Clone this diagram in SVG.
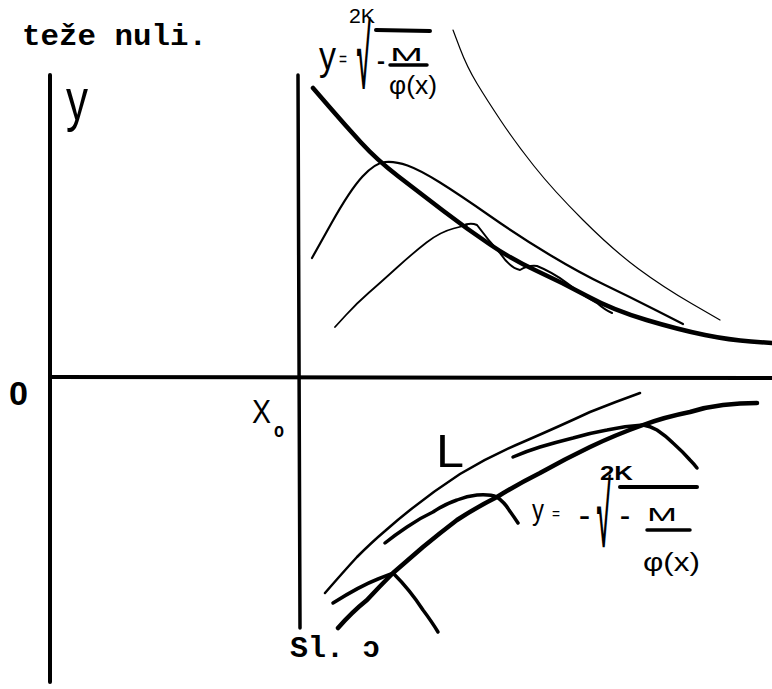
<svg xmlns="http://www.w3.org/2000/svg" width="772" height="689" viewBox="0 0 772 689">
<style>
.ax{stroke:#000;stroke-width:4;fill:none;stroke-linecap:round}
.c{stroke:#000;fill:none;stroke-linecap:round;stroke-linejoin:round}
.tw{font-family:"Liberation Mono","DejaVu Sans Mono",monospace;font-weight:bold;font-size:30px;fill:#000}
.hw{font-family:"Liberation Sans","DejaVu Sans",sans-serif;fill:#000}
.rad{font-family:"Liberation Sans","DejaVu Sans",sans-serif;font-weight:bold;font-size:56px;fill:#000}
.bar{stroke:#000;stroke-width:4;stroke-linecap:round}
</style>
<rect width="772" height="689" fill="#fff"/>
<g id="caption-top"><text class="tw" x="22" y="45" textLength="185" lengthAdjust="spacingAndGlyphs">teže nuli.</text></g>
<g id="axes">
<line class="ax" x1="50" y1="75" x2="50" y2="682"/>
<line class="ax" x1="298" y1="75" x2="300" y2="628" style="stroke-width:3.5"/>
<line class="ax" x1="50" y1="377" x2="772" y2="378"/>
</g>
<g id="upper-curves">
<path class="c" style="stroke-width:4.5" d="M313,88 L329,106.5 Q345,125 361,142.5 Q377,160 398.5,176.5 Q420,193 443.5,211 Q467,229 490,244.5 Q513,260 538,271.5 Q563,283 588,296.5 Q613,310 646.5,320 Q680,330 705,335 Q730,340 751,341.5 L772,343"/>
<path class="c" style="stroke-width:2" d="M462,226 Q470,222 477,225 Q488,240 500,253 Q510,268 520,270 Q528,265 537,266 Q552,272 567,283 Q585,297 597,303 Q605,310 612,313"/>
<path class="c" style="stroke-width:2.2" d="M312,258 L331,224 Q350,190 362.5,176.5 Q375,163 385,162 Q395,161 407.5,165.5 Q420,170 440,182.5 Q460,195 490,216 Q520,237 550,255 Q580,273 605,285 Q630,297 656.5,310.5 L683,324"/>
<path class="c" style="stroke-width:1.8" d="M335,327 L346,315 Q357,303 368.5,293 Q380,283 396.5,268 Q413,253 426.5,242.5 Q440,232 453.5,228.5 L467,225"/>
<path class="c" style="stroke-width:1.2" d="M453,30 L460,48.5 Q467,67 477,83.5 Q487,100 501,121 Q515,142 534,166 Q553,190 583,220 Q613,250 638,268.5 Q663,287 691.5,303.5 L720,320"/>
</g>
<g id="lower-curves">
<path class="c" style="stroke-width:2.5" d="M325,593 Q345,570 357,557 Q372,542 385,531 Q420,500 460,474 Q490,456 523,442 Q560,426 590,412 Q615,402 640,393"/>
<path class="c" style="stroke-width:3.5" d="M333,603 Q360,586 378,579 Q388,575 393,573 Q410,590 423,610 Q432,622 438,632"/>
<path class="c" style="stroke-width:4.5" d="M338,628 Q352,612 367,600 Q380,586 393,573 Q408,560 423,547 Q440,533 457,520 Q477,507 497,497 Q518,484 540,473 Q565,459 590,447 Q615,435 643,425 Q665,417 690,412 Q706,407 723,405 Q740,403 757,403"/>
<path class="c" style="stroke-width:3.5" d="M385,543 Q395,535 407,527 Q420,518 433,512 Q445,504 457,500 Q467,496 477,495 Q490,494 497,497 Q505,503 509,510 Q514,517 518,523"/>
<path class="c" style="stroke-width:3.5" d="M513,457 Q527,451 540,447 Q557,442 573,438 Q590,433 607,430 Q625,426 643,425 Q650,426 657,430 Q666,436 673,443 Q683,452 690,460 Q694,464 697,468"/>
</g>
<g id="labels">
<text class="hw" x="66" y="120" font-size="60" textLength="22" lengthAdjust="spacingAndGlyphs">y</text>
<text class="hw" x="9" y="405" font-size="33" font-weight="bold" textLength="19" lengthAdjust="spacingAndGlyphs">0</text>
<text class="hw" x="252" y="423" font-size="33" textLength="19" lengthAdjust="spacingAndGlyphs">X</text>
<text class="hw" x="274" y="437" font-size="20" font-weight="bold" textLength="10" lengthAdjust="spacingAndGlyphs">o</text>
<text class="hw" x="436" y="467" font-size="46" textLength="28" lengthAdjust="spacingAndGlyphs">L</text>
</g>
<g id="formula-top">
<text class="hw" x="349" y="23" font-size="20" textLength="26" lengthAdjust="spacingAndGlyphs">2K</text>
<line class="bar" x1="376" y1="30" x2="430" y2="31"/>
<text class="hw" x="319" y="70" font-size="40" textLength="17" lengthAdjust="spacingAndGlyphs">y</text>
<text class="hw" x="339" y="66" font-size="20" textLength="8" lengthAdjust="spacingAndGlyphs">=</text>
<text class="rad" transform="translate(357,88) scale(0.45,1.6)">√</text>
<text class="hw" x="377" y="68" font-size="22" font-weight="bold" textLength="8" lengthAdjust="spacingAndGlyphs">-</text>
<text class="hw" x="390" y="61" font-size="18" textLength="33" lengthAdjust="spacingAndGlyphs">M</text>
<line class="bar" x1="390" y1="65" x2="427" y2="65" style="stroke-width:3.5"/>
<text class="hw" x="389" y="94" font-size="26" textLength="48" lengthAdjust="spacingAndGlyphs">φ(x)</text>
</g>
<g id="formula-bottom">
<text class="hw" x="600" y="480" font-size="20" font-weight="bold" textLength="33" lengthAdjust="spacingAndGlyphs">2K</text>
<line class="bar" x1="620" y1="487" x2="697" y2="487"/>
<text class="hw" x="532" y="520" font-size="30" textLength="12" lengthAdjust="spacingAndGlyphs">y</text>
<text class="hw" x="552" y="519" font-size="16" textLength="8" lengthAdjust="spacingAndGlyphs">=</text>
<text class="hw" x="579" y="523" font-size="22" font-weight="bold" textLength="11" lengthAdjust="spacingAndGlyphs">-</text>
<text class="rad" transform="translate(597,546) scale(0.45,1.62)">√</text>
<text class="hw" x="620" y="523" font-size="22" font-weight="bold" textLength="10" lengthAdjust="spacingAndGlyphs">-</text>
<text class="hw" x="647" y="521" font-size="18" textLength="30" lengthAdjust="spacingAndGlyphs">M</text>
<line class="bar" x1="647" y1="530" x2="690" y2="530" style="stroke-width:3.5"/>
<text class="hw" x="643" y="571" font-size="26" textLength="57" lengthAdjust="spacingAndGlyphs">φ(x)</text>
</g>
<g id="caption-bottom"><text class="tw" x="290" y="657">Sl. ɔ</text></g>
</svg>
